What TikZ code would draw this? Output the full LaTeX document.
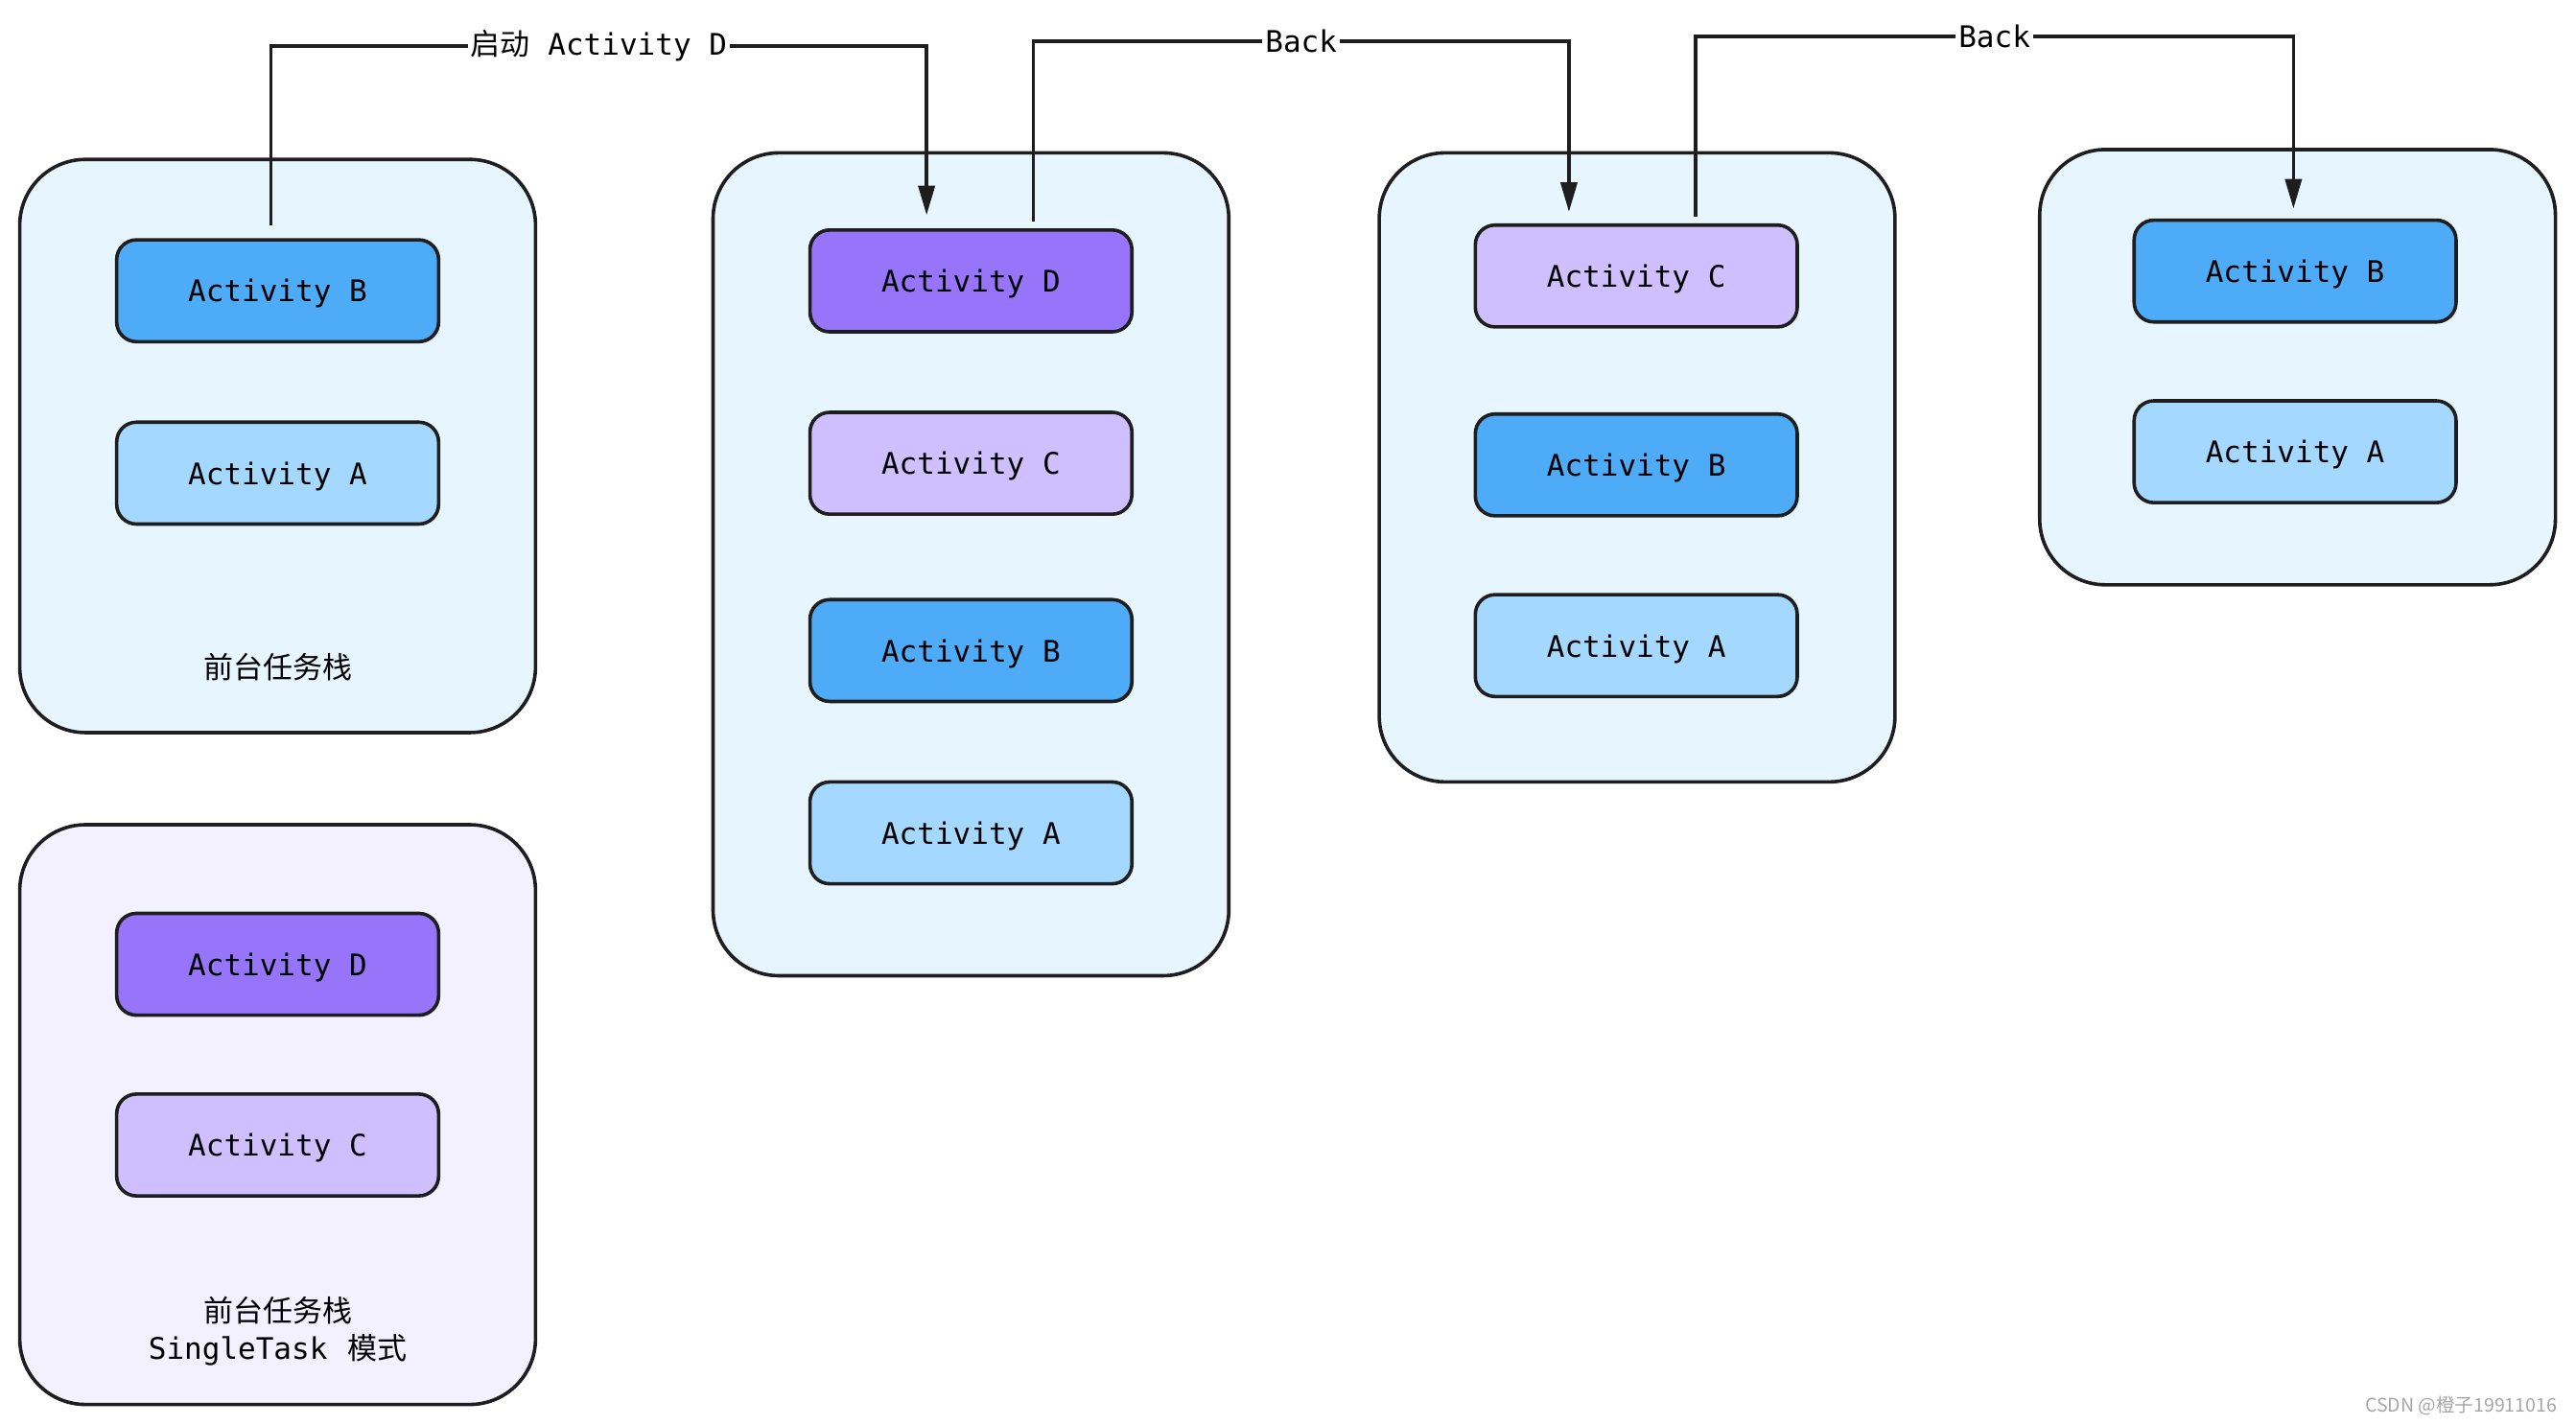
\documentclass[tikz,border=0pt]{standalone}
\usepackage{fontspec}
\setmonofont{DejaVu Sans Mono}
\newfontfamily\cjk{Noto Sans CJK SC}
\usetikzlibrary{arrows.meta}
\definecolor{ink}{HTML}{1E1E1E}
\definecolor{stackblue}{HTML}{E7F5FF}
\definecolor{stackpurple}{HTML}{F3F0FF}
\definecolor{actB}{HTML}{4DABF7}
\definecolor{actA}{HTML}{A5D8FF}
\definecolor{actD}{HTML}{9775FA}
\definecolor{actC}{HTML}{D0BFFF}
\tikzset{
every picture/.style={very thick}
}
\tikzset{
  stack/.style={draw=ink, fill=stackblue, rounded corners=0.8cm, minimum width=6.28cm},
  act/.style={draw=ink, rounded corners=0.24cm, minimum width=3.92cm, minimum height=1.24cm,
    text depth=0pt, font=\ttfamily\fontsize{10.3}{12}\selectfont},
  stacklabel/.style={align=center, font=\fontsize{10.3}{13}\selectfont},
  link/.style={draw=ink, -{Triangle[length=0.36cm,width=0.2cm]}},
  linklabel/.style={fill=white, inner sep=1pt, font=\ttfamily\fontsize{10.3}{12}\selectfont}
}

\begin{document}
\begin{tikzpicture}[x=0.02cm, y=-0.02cm]
    \useasboundingbox (0,0) rectangle (1568,867);
    % stacks
    \node[stack, minimum height=6.98cm] (fg) at (169,271.5) {};
    \node[stack, fill=stackpurple, minimum height=7.06cm] (single) at (169,678.5) {};
    \node[stack, minimum height=10.02cm] (st2) at (591,343.5) {};
    \node[stack, minimum height=7.66cm] (st3) at (996.5,284.5) {};
    \node[stack, minimum height=5.3cm] (st4) at (1398.5,223.5) {};
    % activities
    \node[act, fill=actB] (b1) at (169,177) {Activity B};
    \node[act, fill=actA] (a1) at (169,288) {Activity A};
    \node[stacklabel] (fglabel) at (169,406) {\cjk 前台任务栈};
    \node[act, fill=actD] (d0) at (169,587) {Activity D};
    \node[act, fill=actC] (c0) at (169,697) {Activity C};
    \node[stacklabel] (singlelabel) at (169,810.5) {{\cjk 前台任务栈}\\\texttt{SingleTask}\ \ {\cjk 模式}};
    \node[act, fill=actD] (d2) at (591,171) {Activity D};
    \node[act, fill=actC] (c2) at (591,282) {Activity C};
    \node[act, fill=actB] (b2) at (591,396) {Activity B};
    \node[act, fill=actA] (a2) at (591,507) {Activity A};
    \node[act, fill=actC] (c3) at (996,168) {Activity C};
    \node[act, fill=actB] (b3) at (996,283) {Activity B};
    \node[act, fill=actA] (a3) at (996,393) {Activity A};
    \node[act, fill=actB] (b4) at (1397,165) {Activity B};
    \node[act, fill=actA] (a4) at (1397,275) {Activity A};
    % connectors
    \coordinate (b1s) at ([xshift=-0.08cm, yshift=0.16cm]b1.north);
    \coordinate (d2e) at ([xshift=-0.54cm, yshift=0.16cm]d2.north);
    \coordinate (d2s) at ([xshift=0.76cm, yshift=0.08cm]d2.north);
    \coordinate (c3e) at ([xshift=-0.82cm, yshift=0.14cm]c3.north);
    \coordinate (c3s) at ([xshift=0.72cm, yshift=0.08cm]c3.north);
    \coordinate (b4e) at ([xshift=-0.02cm, yshift=0.12cm]b4.north);
    \coordinate (top1) at (0,28);
    \coordinate (top2) at (0,25);
    \coordinate (top3) at (0,22);
    \draw[link] (b1s) -- (b1s |- top1) -- node[linklabel] {{\cjk 启动} Activity D} (d2e |- top1) -- (d2e);
    \draw[link] (d2s) -- (d2s |- top2) -- node[linklabel] {Back} (c3e |- top2) -- (c3e);
    \draw[link] (c3s) -- (c3s |- top3) -- node[linklabel] {Back} (b4e |- top3) -- (b4e);
    % watermark
    \node[text=gray!70, font=\cjk\fontsize{6.5}{8}\selectfont] (mark) at (1498,856) {CSDN @橙子19911016};
\end{tikzpicture}
\end{document}
